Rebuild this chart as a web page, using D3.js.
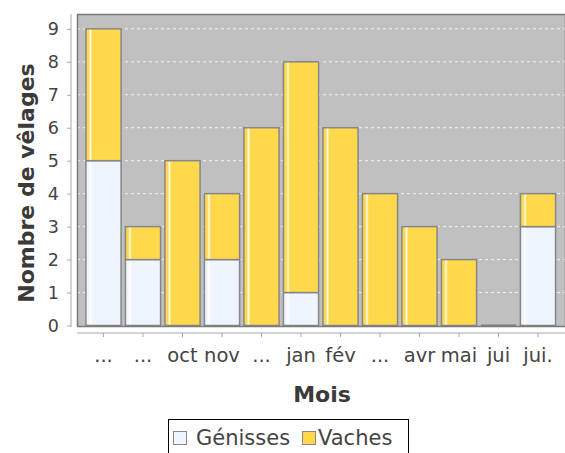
<!DOCTYPE html>
<html><head><meta charset="utf-8">
<script src="https://cdn.jsdelivr.net/npm/d3@7"></script>
<style>body{margin:0;background:#fff}svg{display:block}text{font-family:"DejaVu Sans",sans-serif}</style>
</head><body>
<script>
const months = ["...", "...", "oct", "nov", "...", "jan", "fév", "...", "avr", "mai", "jui", "jui."];
const genisses = [5, 2, 0, 2, 0, 1, 0, 0, 0, 0, 0, 3];
const vaches   = [4, 1, 5, 2, 6, 7, 6, 4, 3, 2, 0, 1];
const seriesNames = ["Génisses", "Vaches"];
const seriesColors = ["#EEF5FF", "#FFD84C"];
const yTicks = [0,1,2,3,4,5,6,7,8,9];

const W = 565, H = 453;
const plot = {left: 77, right: 565, top: 14, bottom: 327};
const svg = d3.select("body").append("svg").attr("width", W).attr("height", H);

const keys = months.map((m, i) => "c" + i);
const x = d3.scaleBand().domain(keys).range([83.75, 557.75]).paddingInner(0.11).paddingOuter(0.055);
const y = d3.scaleLinear().domain([0, 9.45]).range([325.5, 14]);

const defs = svg.append("defs");
seriesColors.forEach((c, i) => {
  const g = defs.append("linearGradient").attr("id", "g" + i).attr("x1", "0").attr("x2", "1").attr("y1", "0").attr("y2", "0");
  const hl = i === 1 ? "#FFFBE6" : "#FFFFFF";
  [[0, c], [0.08, c], [0.13, hl], [0.18, c], [1, c]].forEach(([o, col]) =>
    g.append("stop").attr("offset", o).attr("stop-color", col));
});

// plot background
svg.append("rect").attr("x", plot.left).attr("y", plot.top)
  .attr("width", plot.right - plot.left).attr("height", plot.bottom - plot.top)
  .attr("fill", "#C0C0C0");

// gridlines
svg.append("g").selectAll("line").data(yTicks.filter(d => d > 0)).join("line")
  .attr("x1", plot.left).attr("x2", plot.right)
  .attr("y1", d => y(d)).attr("y2", d => y(d))
  .attr("stroke", "#F2F2F2").attr("stroke-width", 1).attr("stroke-dasharray", "3,3");

// stacked data
const data = months.map((m, i) => ({key: keys[i], Génisses: genisses[i], Vaches: vaches[i]}));
const stack = d3.stack().keys(seriesNames)(data);

stack.forEach((layer, si) => {
  svg.append("g").selectAll("rect").data(layer).join("rect")
    .attr("x", d => x(d.data.key))
    .attr("width", x.bandwidth())
    .attr("y", d => y(d[1]))
    .attr("height", d => y(d[0]) - y(d[1]))
    .attr("fill", `url(#g${si})`)
    .attr("stroke", "#878787").attr("stroke-width", 1.5)
    .attr("display", d => (d[1] - d[0] === 0 ? "none" : null));
});
// zero-total bars drawn as a flat outline
svg.append("g").selectAll("line").data(data.filter(d => d.Génisses + d.Vaches === 0)).join("line")
  .attr("x1", d => x(d.key)).attr("x2", d => x(d.key) + x.bandwidth())
  .attr("y1", y(0)).attr("y2", y(0))
  .attr("stroke", "#808080").attr("stroke-width", 2);

// plot border
svg.append("rect").attr("x", plot.left + 0.5).attr("y", plot.top + 0.5)
  .attr("width", plot.right - plot.left).attr("height", plot.bottom - plot.top - 1)
  .attr("fill", "none").attr("stroke", "#7a7a7a").attr("stroke-width", 1.5);

// y axis
const yAxis = d3.axisLeft(y).tickValues(yTicks).tickSize(4).tickPadding(8).tickFormat(d3.format("d"));
const ya = svg.append("g").attr("transform", "translate(71,0)").call(yAxis);
ya.select(".domain").attr("d", `M0,${plot.top}V${plot.bottom}`).attr("stroke", "#A8A8A8");
ya.selectAll(".tick line").attr("stroke", "#A8A8A8");
ya.selectAll(".tick text").attr("font-size", 17.5).attr("fill", "#444").attr("font-family", "DejaVu Sans");

// x axis
const xAxis = d3.axisBottom(x).tickSize(4).tickPadding(11).tickFormat((d, i) => months[i]);
const xa = svg.append("g").attr("transform", "translate(0,333)").call(xAxis);
xa.select(".domain").attr("d", `M${plot.left},0H${plot.right}`).attr("stroke", "#A8A8A8");
xa.selectAll(".tick line").attr("stroke", "#A8A8A8");
xa.selectAll(".tick text").attr("font-size", 19.5).attr("fill", "#444").attr("font-family", "DejaVu Sans");

// axis titles
svg.append("text").attr("x", 322).attr("y", 402).attr("text-anchor", "middle")
  .attr("font-size", 22).attr("font-weight", "bold").attr("fill", "#3a3a3a").text("Mois");
svg.append("text").attr("transform", "translate(34,183) rotate(-90)").attr("text-anchor", "middle")
  .attr("font-size", 22).attr("font-weight", "bold").attr("fill", "#3a3a3a").text("Nombre de vêlages");

// legend
const lg = svg.append("g");
lg.append("rect").attr("x", 168.5).attr("y", 419.5).attr("width", 240).attr("height", 40)
  .attr("fill", "#fff").attr("stroke", "#000").attr("stroke-width", 1);
const legendX = [[173, 196], [302, 318]];
seriesNames.forEach((n, i) => {
  lg.append("rect").attr("x", legendX[i][0] + 0.5).attr("y", 431.5).attr("width", 13).attr("height", 13)
    .attr("fill", seriesColors[i]).attr("stroke", "#888").attr("stroke-width", 1);
  lg.append("text").attr("x", legendX[i][1]).attr("y", 444.5).attr("font-size", 21)
    .attr("fill", "#444").text(n);
});
</script>
</body></html>
